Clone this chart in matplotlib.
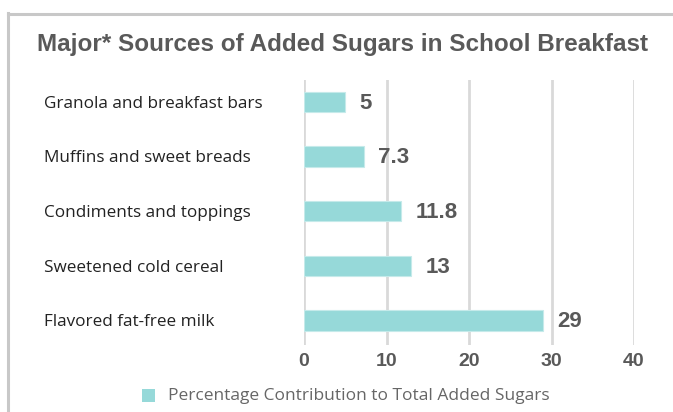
import matplotlib
matplotlib.use("Agg")
import matplotlib.pyplot as plt
from matplotlib.lines import Line2D
from matplotlib.patches import Rectangle

categories = ["Flavored fat-free milk", "Sweetened cold cereal", "Condiments and toppings",
              "Muffins and sweet breads", "Granola and breakfast bars"]
values = [29, 13, 11.8, 7.3, 5]
value_labels = ["29", "13", "11.8", "7.3", "5"]
xticks = [0, 10, 20, 30, 40]
title = "Major* Sources of Added Sugars in School Breakfast"
legend_label = "Percentage Contribution to Total Added Sugars"

W, H = 673, 412
fig = plt.figure(figsize=(W / 100, H / 100), dpi=100)
bar_color = "#96D9D9"
grid_color = "#d9d9d9"
text_gray = "#595959"

ax = fig.add_axes([304 / W, 1 - 345 / H, (634 - 304) / W, (345 - 80) / H])
y = list(range(len(categories)))
ax.barh(y, values, height=0.37, color=bar_color, edgecolor="#c5eaea", linewidth=0.8, zorder=3,
        label=legend_label)
for yi, v, lab in zip(y, values, value_labels):
    ax.annotate(lab, xy=(v, yi), xytext=(10, -1), textcoords="offset points",
                ha="left", va="center", fontsize=16, fontweight="bold",
                color=text_gray, family="Liberation Sans")

ax.set_xlim(0, 40)
ax.set_ylim(-0.45, 4.4)
ax.set_xticks(xticks)
ax.set_xticklabels([str(t) for t in xticks], fontsize=14, fontweight="bold",
                   color=text_gray, family="Liberation Sans")
ax.set_yticks(y)
ax.set_yticklabels(categories, fontsize=12.3, color="#222222", family="Open Sans", ha="left")
ax.tick_params(axis="y", length=0, pad=260 * 0.72)
ax.tick_params(axis="x", length=0, pad=6)
ax.grid(axis="x", color=grid_color, linewidth=2, zorder=0)
for s in ax.spines.values():
    s.set_visible(False)

fig.text(37 / W, 1 - 45 / H, title, fontsize=17.5, fontweight="bold", color=text_gray,
         family="Liberation Sans", ha="left", va="center")

# legend
fig.patches.append(Rectangle((142 / W, 1 - 402 / H), 13 / W, 13 / H, transform=fig.transFigure,
                             facecolor=bar_color, edgecolor="none"))
fig.text(168 / W, 1 - 396 / H, legend_label, fontsize=12.5, color="#666666",
         family="Open Sans", ha="left", va="center")

# outer frame
fig.add_artist(Line2D([8 / W, 8 / W], [0, 1 - 13 / H], transform=fig.transFigure,
                      color="#c8c8c8", linewidth=2.2))
fig.add_artist(Line2D([8 / W, 1], [1 - 14 / H, 1 - 14 / H], transform=fig.transFigure,
                      color="#c8c8c8", linewidth=2.2))

fig.savefig("out.png", dpi=100)
